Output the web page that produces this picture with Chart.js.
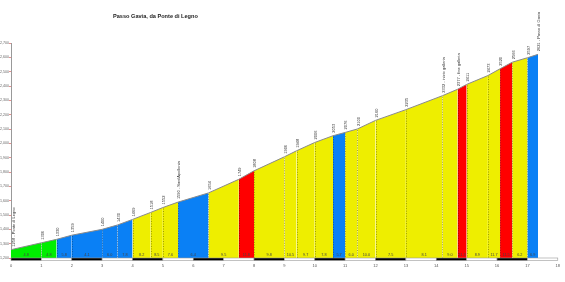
<!DOCTYPE html>
<html><head><meta charset="utf-8">
<script src="https://cdn.jsdelivr.net/npm/chart.js@4.4.1/dist/chart.umd.min.js"></script>
<style>html,body{margin:0;padding:0;background:#fff}</style>
</head><body>
<canvas id="c" width="565" height="282"></canvas>
<script>
const chartTitle = "Passo Gavia, da Ponte di Legno";
const km  = [0, 1, 1.5, 2, 3, 3.5, 4, 4.6, 5, 5.5, 6.5, 7.5, 8, 9, 9.4, 10, 10.6, 11, 11.4, 12, 13, 14.2, 14.7, 15, 15.7, 16.1, 16.5, 17, 17.35];
const alt = [1258, 1306, 1330, 1359, 1400, 1430, 1469, 1518, 1552, 1590, 1654, 1749, 1808, 1906, 1948, 2006, 2053, 2076, 2100, 2160, 2235, 2332, 2377, 2411, 2473, 2520, 2566, 2597, 2621];
const placeNames = ["Ponte di Legno","","","","","","","","","Sant'Apollonia","","","","","","","","","","","","inizio galleria","fine galleria","","","","","","Passo di Gavia"];
// colour class of each segment between consecutive points
const segClass = ["g","g","b","b","b","b","y","y","y","b","y","r","y","y","y","y","b","y","y","y","y","y","r","y","y","r","y","b"];
const xTickValues = [0,1,2,3,4,5,6,7,8,9,10,11,12,13,14,15,16,17,18];
const yTickValues = [1200,1300,1400,1500,1600,1700,1800,1900,2000,2100,2200,2300,2400,2500,2600,2700];

const palette = {g:'#00ee00', b:'#0a80f5', y:'#eeee00', r:'#ff0000'};

const datasets = segClass.map((c,i)=>({
  data:[{x:km[i],y:alt[i]},{x:km[i+1],y:alt[i+1]}],
  fill:'start',
  backgroundColor:palette[c],
  borderColor:'#8a8a8a',
  borderWidth:1,
  pointRadius:0,
  tension:0
}));

const FONT = "'Liberation Sans', Arial, sans-serif";

const decor = {
  id:'decor',
  afterDatasetsDraw(chart){
    const {ctx, chartArea:ca, scales:{x,y}} = chart;
    ctx.save();
    // dotted verticals at interior points
    ctx.setLineDash([1,1.5]);
    ctx.strokeStyle='rgba(0,0,0,0.35)';
    ctx.lineWidth=1;
    for(let i=1;i<km.length-1;i++){
      const px=Math.round(x.getPixelForValue(km[i]))+0.5;
      ctx.beginPath();
      ctx.moveTo(px,y.getPixelForValue(alt[i])+1);
      ctx.lineTo(px,ca.bottom);
      ctx.stroke();
    }
    ctx.setLineDash([]);
    // gradient labels
    ctx.font = "3.8px "+FONT;
    ctx.fillStyle='#444';
    ctx.textAlign='center';
    ctx.textBaseline='middle';
    for(let i=0;i<km.length-1;i++){
      const g=((alt[i+1]-alt[i])/((km[i+1]-km[i])*1000)*100).toFixed(1);
      const cx=(x.getPixelForValue(km[i])+x.getPixelForValue(km[i+1]))/2;
      ctx.fillText(g,cx,ca.bottom-3.5);
    }
    // km bar
    for(let k=0;k<18;k++){
      const x1=x.getPixelForValue(k), x2=x.getPixelForValue(k+1);
      ctx.fillStyle = (k%2===0)?'#000':'#fff';
      ctx.fillRect(x1,ca.bottom,x2-x1,2.5);
      ctx.strokeStyle='#999';
      ctx.lineWidth=0.6;
      ctx.strokeRect(x1,ca.bottom,x2-x1,2.5);
    }
    // altitude labels
    ctx.font = "4px "+FONT;
    ctx.fillStyle='#333';
    ctx.textAlign='left';
    ctx.textBaseline='middle';
    for(let i=0;i<km.length;i++){
      const px=x.getPixelForValue(km[i])+(i===0?2.5:1.2);
      const py=y.getPixelForValue(alt[i])-3;
      const t = placeNames[i] ? alt[i]+" - "+placeNames[i] : String(alt[i]);
      ctx.save();
      ctx.translate(px,py);
      ctx.rotate(-Math.PI/2);
      ctx.fillText(t,0,0);
      ctx.restore();
    }
    // title
    ctx.font = "bold 5.6px "+FONT;
    ctx.fillStyle='#222';
    ctx.textAlign='left';
    ctx.textBaseline='middle';
    ctx.fillText(chartTitle,113,16);
    ctx.restore();
  }
};

new Chart(document.getElementById('c'),{
  type:'line',
  data:{datasets},
  options:{
    responsive:false,
    animation:false,
    devicePixelRatio:1,
    layout:{padding:{top:43,right:6,left:0,bottom:0}},
    plugins:{legend:{display:false},tooltip:{enabled:false},title:{display:false}},
    scales:{
      x:{type:'linear',min:0,max:18,
        afterBuildTicks(s){s.ticks=xTickValues.map(v=>({value:v}));},
        ticks:{font:{size:4,family:FONT},color:'#555',padding:5,maxRotation:0,autoSkip:false},
        grid:{display:true,drawOnChartArea:false,drawTicks:false},
        border:{display:false},
        afterFit(s){s.height=24;}
      },
      y:{type:'linear',min:1200,max:2700,
        afterBuildTicks(s){s.ticks=yTickValues.map(v=>({value:v}));},
        ticks:{font:{size:3.6,family:FONT},color:'#666',padding:0,autoSkip:false},
        grid:{display:true,drawOnChartArea:false,tickLength:2,color:'#e89090'},
        border:{display:true,color:'#999',width:1},
        afterFit(s){s.width=11;}
      }
    }
  },
  plugins:[decor]
});
</script>
</body></html>
